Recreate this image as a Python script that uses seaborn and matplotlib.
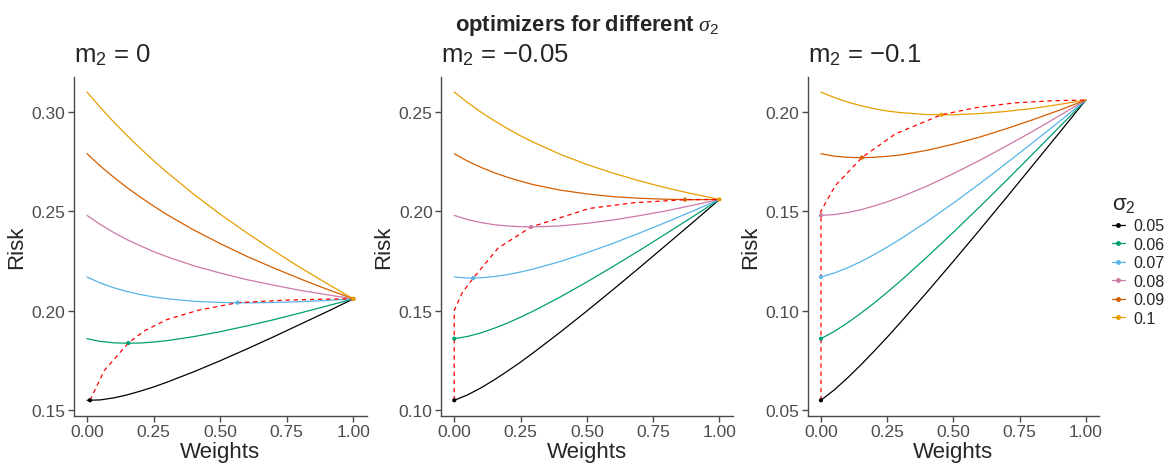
import pandas as pd
import matplotlib
matplotlib.use('Agg')
import matplotlib.pyplot as plt
import seaborn as sns
from matplotlib.lines import Line2D

# shared x grid (weights) and the sigma_2 levels
weights = [0.0, 0.05, 0.1, 0.15, 0.2, 0.25, 0.3, 0.4, 0.5, 0.6, 0.7, 0.8, 0.9, 1.0]
sigma2_labels = ['0.05', '0.06', '0.07', '0.08', '0.09', '0.1']
panel_titles = ['m$_2$ = 0', 'm$_2$ = \u22120.05', 'm$_2$ = \u22120.1']

# risk curves, one row per sigma_2
risk_m2_0 = [
    [0.1550, 0.1552, 0.1562, 0.1577, 0.1596, 0.1617, 0.1641, 0.1693, 0.1749, 0.1808, 0.1869, 0.1932, 0.1995, 0.2060],
    [0.1860, 0.1846, 0.1839, 0.1837, 0.1838, 0.1843, 0.1850, 0.1870, 0.1895, 0.1924, 0.1955, 0.1989, 0.2024, 0.2060],
    [0.2170, 0.2140, 0.2116, 0.2097, 0.2082, 0.2070, 0.2061, 0.2048, 0.2042, 0.2040, 0.2042, 0.2046, 0.2052, 0.2060],
    [0.2480, 0.2434, 0.2394, 0.2358, 0.2327, 0.2298, 0.2272, 0.2227, 0.2190, 0.2157, 0.2129, 0.2103, 0.2081, 0.2060],
    [0.2790, 0.2728, 0.2672, 0.2620, 0.2572, 0.2527, 0.2484, 0.2407, 0.2338, 0.2274, 0.2216, 0.2161, 0.2109, 0.2060],
    [0.3100, 0.3023, 0.2950, 0.2882, 0.2817, 0.2755, 0.2697, 0.2587, 0.2486, 0.2392, 0.2303, 0.2218, 0.2138, 0.2060],
]
risk_m2_005 = [
    [0.1050, 0.1077, 0.1112, 0.1152, 0.1196, 0.1242, 0.1291, 0.1393, 0.1499, 0.1608, 0.1719, 0.1832, 0.1945, 0.2060],
    [0.1360, 0.1371, 0.1389, 0.1412, 0.1438, 0.1468, 0.1500, 0.1570, 0.1645, 0.1724, 0.1805, 0.1889, 0.1974, 0.2060],
    [0.1670, 0.1665, 0.1666, 0.1672, 0.1682, 0.1695, 0.1711, 0.1748, 0.1792, 0.1840, 0.1892, 0.1946, 0.2002, 0.2060],
    [0.1980, 0.1959, 0.1944, 0.1933, 0.1927, 0.1923, 0.1922, 0.1927, 0.1940, 0.1957, 0.1979, 0.2003, 0.2031, 0.2060],
    [0.2290, 0.2253, 0.2222, 0.2195, 0.2172, 0.2152, 0.2134, 0.2107, 0.2088, 0.2074, 0.2066, 0.2061, 0.2059, 0.2060],
    [0.2600, 0.2548, 0.2500, 0.2457, 0.2417, 0.2380, 0.2347, 0.2287, 0.2236, 0.2192, 0.2153, 0.2118, 0.2088, 0.2060],
]
risk_m2_01 = [
    [0.0550, 0.0602, 0.0662, 0.0727, 0.0796, 0.0867, 0.0941, 0.1093, 0.1249, 0.1408, 0.1569, 0.1732, 0.1895, 0.2060],
    [0.0860, 0.0896, 0.0939, 0.0987, 0.1038, 0.1093, 0.1150, 0.1270, 0.1395, 0.1524, 0.1655, 0.1789, 0.1924, 0.2060],
    [0.1170, 0.1190, 0.1216, 0.1247, 0.1282, 0.1320, 0.1361, 0.1448, 0.1542, 0.1640, 0.1742, 0.1846, 0.1952, 0.2060],
    [0.1480, 0.1484, 0.1494, 0.1508, 0.1527, 0.1548, 0.1572, 0.1627, 0.1690, 0.1757, 0.1829, 0.1903, 0.1981, 0.2060],
    [0.1790, 0.1778, 0.1772, 0.1770, 0.1772, 0.1777, 0.1784, 0.1807, 0.1838, 0.1874, 0.1916, 0.1961, 0.2009, 0.2060],
    [0.2100, 0.2073, 0.2050, 0.2032, 0.2017, 0.2005, 0.1997, 0.1987, 0.1986, 0.1992, 0.2003, 0.2018, 0.2038, 0.2060],
]

# minimum-risk point of each curve
opt_w_m2_0 = [0.011, 0.155, 0.565, 1.0, 1.0, 1.0]
opt_r_m2_0 = [0.1550, 0.1838, 0.2041, 0.2060, 0.2060, 0.2060]
opt_w_m2_005 = [0.0, 0.0, 0.072, 0.29, 0.87, 1.0]
opt_r_m2_005 = [0.1050, 0.1360, 0.1665, 0.1922, 0.2059, 0.2060]
opt_w_m2_01 = [0.0, 0.0, 0.0, 0.0, 0.155, 0.455]
opt_r_m2_01 = [0.0550, 0.0860, 0.1170, 0.1480, 0.1771, 0.1986]

# red dashed path of optimizers
front_w_m2_0 = [0.011, 0.0645, 0.155, 0.215, 0.30, 0.418, 0.565, 0.75, 0.90, 1.0]
front_r_m2_0 = [0.1550, 0.1699, 0.1838, 0.1899, 0.1956, 0.2003, 0.2041, 0.2054, 0.2059, 0.2060]
front_w_m2_005 = [0.0, 0.0, 0.03, 0.072, 0.165, 0.29, 0.51, 0.68, 0.87, 1.0]
front_r_m2_005 = [0.1050, 0.1502, 0.1591, 0.1665, 0.1815, 0.1922, 0.2015, 0.2044, 0.2059, 0.2060]
front_w_m2_01 = [0.0, 0.0, 0.055, 0.155, 0.281, 0.455, 0.586, 0.733, 0.88, 1.0]
front_r_m2_01 = [0.0550, 0.1502, 0.1631, 0.1771, 0.1890, 0.1986, 0.2022, 0.2046, 0.2057, 0.2060]

colors = ['#000000', '#009E73', '#56B4E9', '#CC79A7', '#D55E00', '#E69F00']

sns.set_theme(style='ticks')
plt.rcParams['font.family'] = ['Liberation Sans', 'DejaVu Sans']
plt.rcParams['mathtext.fontset'] = 'custom'
plt.rcParams['mathtext.rm'] = 'Liberation Sans'
plt.rcParams['mathtext.bf'] = 'Liberation Sans:bold'
plt.rcParams['mathtext.it'] = 'Liberation Serif:italic'

W, H = 1173, 464
fig = plt.figure(figsize=(W / 100, H / 100), dpi=100)

panels = [
    (risk_m2_0, opt_w_m2_0, opt_r_m2_0, front_w_m2_0, front_r_m2_0, 73.7, 366.7),
    (risk_m2_005, opt_w_m2_005, opt_r_m2_005, front_w_m2_005, front_r_m2_005, 441.0, 732.7),
    (risk_m2_01, opt_w_m2_01, opt_r_m2_01, front_w_m2_01, front_r_m2_01, 807.7, 1099.0),
]
top, bottom = 77.7, 416.7
pal = dict(zip(sigma2_labels, colors))

for i, (risk, ow, orisk, fw, fr, left, right) in enumerate(panels):
    ax = fig.add_axes([left / W, (H - bottom) / H, (right - left) / W, (bottom - top) / H])

    # long table for seaborn
    rows = []
    for s, r in zip(sigma2_labels, risk):
        for w, v in zip(weights, r):
            rows.append({'Weights': w, 'Risk': v, 'sigma2': s})
    df = pd.DataFrame(rows)
    pts = pd.DataFrame({'Weights': ow, 'Risk': orisk, 'sigma2': sigma2_labels})

    sns.lineplot(data=df, x='Weights', y='Risk', hue='sigma2', palette=pal,
                 hue_order=sigma2_labels, legend=False, linewidth=0.9, ax=ax)
    ax.plot(fw, fr, color='red', linestyle=(0, (3.5, 3)), linewidth=0.9)
    sns.scatterplot(data=pts, x='Weights', y='Risk', hue='sigma2', palette=pal,
                    hue_order=sigma2_labels, legend=False, s=9, linewidth=0, ax=ax, zorder=5)

    # ggplot-style 5% expansion
    lo = min(min(r) for r in risk)
    hi = max(max(r) for r in risk)
    pad = (hi - lo) * 0.05
    ax.set_ylim(lo - pad, hi + pad)
    ax.set_xlim(-0.05, 1.05)
    ax.set_xticks([0, 0.25, 0.5, 0.75, 1.0])
    ax.set_xticklabels(['0.00', '0.25', '0.50', '0.75', '1.00'])
    k0 = int(-(-round((lo - pad) / 0.05, 6) // 1))
    yt = [round(0.05 * k, 2) for k in range(k0, k0 + 4)]
    ax.set_yticks(yt)
    ax.set_yticklabels(['{:.2f}'.format(t) for t in yt])

    sns.despine(ax=ax)
    for sp in ['left', 'bottom']:
        ax.spines[sp].set_color('#4a4a4a')
        ax.spines[sp].set_linewidth(1.0)
    ax.tick_params(direction='out', length=4, width=1, color='#4a4a4a',
                   labelcolor='#4D4D4D', labelsize=12.5, pad=2)
    ax.set_xlabel('Weights', fontsize=16, labelpad=1.5)
    ax.set_ylabel('Risk', fontsize=16, labelpad=3)
    ax.text(0.0, 1.045, panel_titles[i], transform=ax.transAxes, fontsize=18.5,
            ha='left', va='baseline')

fig.text(0.5, 1 - 31.5 / H, r'$\mathbf{optimizers\ for\ different}\ \sigma_2$',
         ha='center', va='baseline', fontsize=15.8)

handles = [Line2D([0], [0], color=c, lw=0.9, marker='o', markersize=2.5) for c in colors]
fig.legend(handles, sigma2_labels, title=r'$\mathregular{\sigma_2}$', loc='upper left',
           bbox_to_anchor=(1104 / W, 1 - 186 / H), frameon=False, fontsize=11.5,
           title_fontsize=16, handlelength=0.8, handletextpad=0.55, labelspacing=0.22,
           borderpad=0, alignment='left')

fig.savefig('out.png', dpi=100)
